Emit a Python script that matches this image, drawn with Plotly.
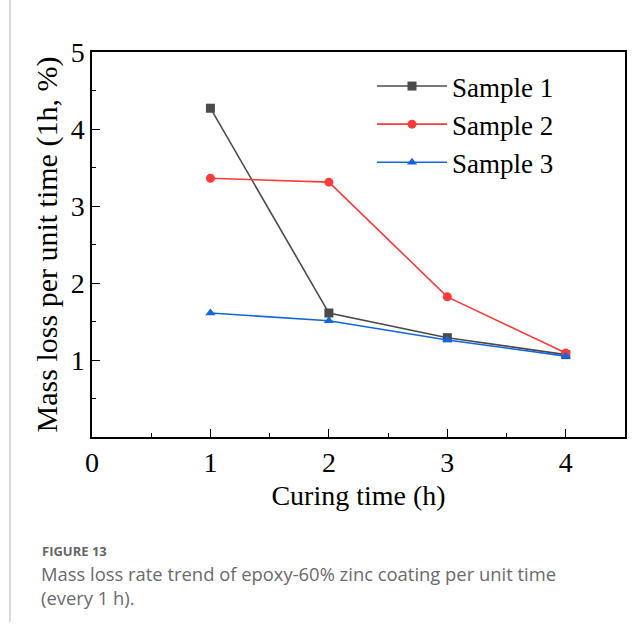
import plotly.graph_objects as go

curing_time = [1, 2, 3, 4]
sample1 = [4.27, 1.61, 1.29, 1.07]
sample2 = [3.36, 3.31, 1.82, 1.09]
sample3 = [1.61, 1.51, 1.26, 1.05]
series_names = ["Sample 1", "Sample 2", "Sample 3"]
colors = ["#4a4a4a", "#ff3a3a", "#1466dc"]
symbols = ["square", "circle", "triangle-up"]

W, H = 641, 628
L, R, T, B = 92, 16, 52, 191
pw, ph = W - L - R, H - T - B

def px_x(p):
    return (p - L) / pw

def px_y(p):
    return (H - B - p) / ph

fig = go.Figure()
for name, ys, c, s in zip(series_names, [sample1, sample2, sample3], colors, symbols):
    fig.add_trace(go.Scatter(
        x=curing_time, y=ys, name=name, mode="lines+markers",
        line=dict(color=c, width=1.6),
        marker=dict(symbol=s, size=9, color=c),
    ))

serif = "Liberation Serif"
axis_common = dict(
    showline=True, linecolor="black", linewidth=1.5, mirror=True,
    ticks="inside", ticklen=8, tickwidth=1.2, tickcolor="black",
    showgrid=False, zeroline=False,
    tickfont=dict(family=serif, size=28, color="black"),
    minor=dict(ticks="inside", ticklen=4, tickwidth=1.2, tickcolor="black", dtick=0.5),
)
fig.update_xaxes(range=[0, 4.5], dtick=1, tick0=0,
                 title=dict(text="Curing time (h)", font=dict(family=serif, size=28, color="black"), standoff=8),
                 **axis_common)
fig.update_yaxes(range=[0, 5], dtick=1, tick0=0, tickvals=[1, 2, 3, 4, 5],
                 title=dict(text="Mass loss per unit time (1h, %)", font=dict(family=serif, size=30, color="black"), standoff=4),
                 **axis_common)

fig.update_layout(
    width=W, height=H,
    margin=dict(l=L, r=R, t=T, b=B),
    paper_bgcolor="white", plot_bgcolor="white",
    showlegend=True,
    legend=dict(
        x=px_x(372), y=px_y(62), xanchor="left", yanchor="top",
        font=dict(family=serif, size=27, color="black"),
        itemwidth=70, bgcolor="rgba(0,0,0,0)", tracegroupgap=0,
    ),
)

fig.add_shape(type="line", xref="paper", yref="paper",
              x0=px_x(10), x1=px_x(10), y0=px_y(0), y1=px_y(622),
              line=dict(color="#cccccc", width=1.5))

cap_font = "Open Sans"
fig.add_annotation(xref="paper", yref="paper", x=px_x(40), y=px_y(551),
                   xanchor="left", yanchor="middle", showarrow=False,
                   text="<b>FIGURE 13</b>", font=dict(family=cap_font, size=13, color="#666666"))
fig.add_annotation(xref="paper", yref="paper", x=px_x(39), y=px_y(585),
                   xanchor="left", yanchor="middle", showarrow=False, align="left",
                   text="Mass loss rate trend of epoxy-60% zinc coating per unit time<br>(every 1 h).",
                   font=dict(family=cap_font, size=18.4, color="#6a6a6a"))

fig.write_html("out.html")
